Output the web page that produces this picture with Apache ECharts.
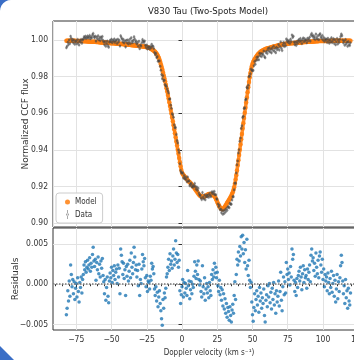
<!DOCTYPE html>
<html>
<head>
<meta charset="utf-8">
<script src="https://cdn.jsdelivr.net/npm/echarts@6/dist/echarts.min.js"></script>
<style>
  html, body { margin: 0; padding: 0; background: #fff; }
  #chart { width: 354px; height: 360px; }
</style>
</head>
<body>
<div id="chart"></div>
<script>
// Doppler velocity of each CCF sample (km/s)
const velocity = [
  -82,-81.5,-81,-80.5,-80,-79.5,-79,-78.5,-78,-77.5,
  -77,-76.5,-76,-75.5,-75,-74.5,-74,-73.5,-73,-72.5,
  -72,-71.5,-71,-70.5,-70,-69.5,-69,-68.5,-68,-67.5,
  -67,-66.5,-66,-65.5,-65,-64.5,-64,-63.5,-63,-62.5,
  -62,-61.5,-61,-60.5,-60,-59.5,-59,-58.5,-58,-57.5,
  -57,-56.5,-56,-55.5,-55,-54.5,-54,-53.5,-53,-52.5,
  -52,-51.5,-51,-50.5,-50,-49.5,-49,-48.5,-48,-47.5,
  -47,-46.5,-46,-45.5,-45,-44.5,-44,-43.5,-43,-42.5,
  -42,-41.5,-41,-40.5,-40,-39.5,-39,-38.5,-38,-37.5,
  -37,-36.5,-36,-35.5,-35,-34.5,-34,-33.5,-33,-32.5,
  -32,-31.5,-31,-30.5,-30,-29.5,-29,-28.5,-28,-27.5,
  -27,-26.5,-26,-25.5,-25,-24.5,-24,-23.5,-23,-22.5,
  -22,-21.5,-21,-20.5,-20,-19.5,-19,-18.5,-18,-17.5,
  -17,-16.5,-16,-15.5,-15,-14.5,-14,-13.5,-13,-12.5,
  -12,-11.5,-11,-10.5,-10,-9.5,-9,-8.5,-8,-7.5,
  -7,-6.5,-6,-5.5,-5,-4.5,-4,-3.5,-3,-2.5,
  -2,-1.5,-1,-0.5,0,0.5,1,1.5,2,2.5,
  3,3.5,4,4.5,5,5.5,6,6.5,7,7.5,
  8,8.5,9,9.5,10,10.5,11,11.5,12,12.5,
  13,13.5,14,14.5,15,15.5,16,16.5,17,17.5,
  18,18.5,19,19.5,20,20.5,21,21.5,22,22.5,
  23,23.5,24,24.5,25,25.5,26,26.5,27,27.5,
  28,28.5,29,29.5,30,30.5,31,31.5,32,32.5,
  33,33.5,34,34.5,35,35.5,36,36.5,37,37.5,
  38,38.5,39,39.5,40,40.5,41,41.5,42,42.5,
  43,43.5,44,44.5,45,45.5,46,46.5,47,47.5,
  48,48.5,49,49.5,50,50.5,51,51.5,52,52.5,
  53,53.5,54,54.5,55,55.5,56,56.5,57,57.5,
  58,58.5,59,59.5,60,60.5,61,61.5,62,62.5,
  63,63.5,64,64.5,65,65.5,66,66.5,67,67.5,
  68,68.5,69,69.5,70,70.5,71,71.5,72,72.5,
  73,73.5,74,74.5,75,75.5,76,76.5,77,77.5,
  78,78.5,79,79.5,80,80.5,81,81.5,82,82.5,
  83,83.5,84,84.5,85,85.5,86,86.5,87,87.5,
  88,88.5,89,89.5,90,90.5,91,91.5,92,92.5,
  93,93.5,94,94.5,95,95.5,96,96.5,97,97.5,
  98,98.5,99,99.5,100,100.5,101,101.5,102,102.5,
  103,103.5,104,104.5,105,105.5,106,106.5,107,107.5,
  108,108.5,109,109.5,110,110.5,111,111.5,112,112.5,
  113,113.5,114,114.5,115,115.5,116,116.5,117,117.5,
  118,118.5,119,119.5
];

// Two-spot model of the normalized CCF profile
const modelFlux = [
  0.9996,0.9996,0.9996,0.9996,0.9996,0.9996,0.9996,0.9996,0.9996,0.9996,
  0.9996,0.9996,0.9996,0.9995,0.9995,0.9995,0.9995,0.9995,0.9995,0.9995,
  0.9994,0.9994,0.9994,0.9994,0.9994,0.9993,0.9993,0.9993,0.9993,0.9993,
  0.9992,0.9992,0.9992,0.9992,0.9991,0.9991,0.9991,0.9991,0.9990,0.9990,
  0.9990,0.9990,0.9989,0.9989,0.9989,0.9989,0.9988,0.9988,0.9988,0.9987,
  0.9987,0.9987,0.9987,0.9986,0.9986,0.9986,0.9986,0.9985,0.9985,0.9985,
  0.9984,0.9984,0.9984,0.9983,0.9983,0.9983,0.9982,0.9982,0.9982,0.9981,
  0.9981,0.9981,0.9980,0.9980,0.9980,0.9979,0.9979,0.9979,0.9978,0.9978,
  0.9978,0.9977,0.9977,0.9976,0.9976,0.9976,0.9975,0.9975,0.9974,0.9974,
  0.9974,0.9973,0.9973,0.9972,0.9972,0.9971,0.9971,0.9970,0.9970,0.9970,
  0.9969,0.9969,0.9968,0.9968,0.9967,0.9967,0.9966,0.9966,0.9965,0.9965,
  0.9964,0.9963,0.9963,0.9962,0.9961,0.9960,0.9959,0.9958,0.9957,0.9955,
  0.9952,0.9950,0.9947,0.9944,0.9941,0.9938,0.9934,0.9930,0.9925,0.9919,
  0.9912,0.9903,0.9893,0.9881,0.9868,0.9854,0.9840,0.9824,0.9808,0.9791,
  0.9774,0.9756,0.9737,0.9719,0.9700,0.9680,0.9660,0.9640,0.9619,0.9598,
  0.9577,0.9556,0.9534,0.9512,0.9490,0.9468,0.9445,0.9423,0.9400,0.9378,
  0.9355,0.9332,0.9310,0.9290,0.9275,0.9268,0.9262,0.9257,0.9252,0.9248,
  0.9243,0.9239,0.9234,0.9230,0.9226,0.9222,0.9218,0.9214,0.9209,0.9204,
  0.9199,0.9194,0.9188,0.9183,0.9177,0.9172,0.9166,0.9161,0.9156,0.9152,
  0.9148,0.9146,0.9144,0.9143,0.9143,0.9144,0.9145,0.9147,0.9149,0.9151,
  0.9154,0.9156,0.9158,0.9159,0.9159,0.9158,0.9157,0.9155,0.9153,0.9150,
  0.9146,0.9140,0.9133,0.9124,0.9115,0.9106,0.9098,0.9091,0.9085,0.9080,
  0.9076,0.9075,0.9075,0.9079,0.9084,0.9090,0.9097,0.9103,0.9110,0.9116,
  0.9122,0.9128,0.9135,0.9142,0.9150,0.9158,0.9168,0.9180,0.9195,0.9214,
  0.9237,0.9261,0.9287,0.9315,0.9343,0.9371,0.9400,0.9429,0.9458,0.9487,
  0.9516,0.9545,0.9574,0.9602,0.9630,0.9658,0.9686,0.9714,0.9742,0.9770,
  0.9797,0.9820,0.9840,0.9857,0.9870,0.9880,0.9888,0.9895,0.9901,0.9907,
  0.9913,0.9918,0.9923,0.9927,0.9931,0.9934,0.9937,0.9940,0.9942,0.9944,
  0.9946,0.9948,0.9950,0.9952,0.9953,0.9954,0.9955,0.9956,0.9957,0.9958,
  0.9959,0.9961,0.9962,0.9963,0.9964,0.9965,0.9966,0.9967,0.9968,0.9969,
  0.9970,0.9971,0.9972,0.9973,0.9974,0.9975,0.9976,0.9976,0.9977,0.9978,
  0.9978,0.9979,0.9979,0.9980,0.9980,0.9981,0.9981,0.9982,0.9982,0.9982,
  0.9983,0.9983,0.9984,0.9984,0.9984,0.9985,0.9985,0.9985,0.9986,0.9986,
  0.9986,0.9987,0.9987,0.9987,0.9988,0.9988,0.9988,0.9989,0.9989,0.9989,
  0.9989,0.9990,0.9990,0.9990,0.9991,0.9991,0.9991,0.9991,0.9992,0.9992,
  0.9992,0.9992,0.9992,0.9993,0.9993,0.9993,0.9993,0.9993,0.9994,0.9994,
  0.9994,0.9994,0.9994,0.9994,0.9994,0.9995,0.9995,0.9995,0.9995,0.9995,
  0.9995,0.9995,0.9995,0.9995,0.9995,0.9995,0.9996,0.9996,0.9996,0.9996,
  0.9996,0.9996,0.9996,0.9996,0.9996,0.9996,0.9996,0.9996,0.9996,0.9996,
  0.9996,0.9996,0.9996,0.9996,0.9996,0.9996,0.9996,0.9996,0.9996,0.9996,
  0.9996,0.9996,0.9996,0.9996
];

// Observed minus model at each velocity
const residuals = [
  -0.0038,-0.0030,-0.0008,-0.0021,0.0004,-0.0015,0.0024,0.0012,-0.0003,0.0006,
  -0.0012,0.0003,-0.0019,-0.0005,0.0001,-0.0016,0.0008,-0.0009,-0.0022,0.0002,
  -0.0004,0.0009,-0.0011,0.0006,0.0012,0.0024,0.0018,0.0028,0.0015,0.0021,
  0.0030,0.0019,0.0024,0.0033,0.0016,0.0026,0.0021,0.0037,0.0046,0.0029,
  0.0022,0.0031,0.0005,0.0027,0.0018,0.0034,0.0013,0.0025,0.0009,0.0029,
  0.0020,0.0032,0.0011,0.0003,-0.0012,0.0006,-0.0020,-0.0004,0.0009,-0.0015,
  -0.0023,0.0004,0.0014,0.0008,0.0021,0.0002,0.0017,0.0011,0.0023,0.0006,
  0.0015,0.0019,0.0001,0.0024,0.0009,0.0020,-0.0012,0.0044,0.0036,0.0028,
  0.0012,0.0026,0.0007,0.0018,-0.0014,0.0022,0.0010,0.0025,0.0004,0.0016,
  0.0030,0.0008,0.0039,0.0021,0.0013,0.0027,0.0046,0.0034,0.0018,0.0024,
  0.0009,0.0017,-0.0002,0.0025,-0.0014,0.0006,0.0001,0.0019,0.0037,0.0028,
  0.0023,0.0032,0.0008,-0.0003,0.0011,-0.0009,0.0004,0.0002,-0.0006,0.0010,
  0.0005,0.0026,0.0019,0.0022,0.0013,-0.0006,-0.0014,-0.0003,-0.0021,-0.0010,
  -0.0028,-0.0016,-0.0008,-0.0024,-0.0033,-0.0043,-0.0051,-0.0019,-0.0030,-0.0011,
  -0.0017,-0.0005,0.0009,0.0013,0.0021,0.0031,0.0017,0.0038,0.0025,0.0029,
  0.0020,0.0035,0.0044,0.0024,0.0031,0.0054,0.0039,0.0027,0.0037,0.0021,
  0.0030,-0.0008,-0.0024,-0.0013,-0.0003,0.0006,-0.0016,0.0002,-0.0011,0.0001,
  -0.0005,-0.0014,0.0017,-0.0002,0.0004,-0.0018,-0.0007,0.0003,-0.0012,0.0000,
  -0.0004,0.0010,0.0028,0.0016,0.0007,0.0024,0.0012,0.0029,0.0006,-0.0001,
  0.0004,-0.0009,-0.0016,0.0023,-0.0003,-0.0012,0.0008,-0.0020,-0.0006,0.0001,
  -0.0011,-0.0003,-0.0017,0.0002,-0.0008,-0.0014,0.0012,0.0006,0.0018,0.0009,
  0.0026,0.0014,0.0021,0.0008,0.0015,-0.0002,-0.0009,0.0005,-0.0013,-0.0004,
  -0.0020,-0.0007,-0.0027,-0.0012,-0.0031,-0.0018,-0.0036,-0.0024,-0.0041,-0.0029,
  -0.0034,-0.0045,-0.0028,-0.0039,-0.0047,-0.0032,-0.0025,-0.0036,-0.0014,0.0003,
  -0.0019,0.0012,0.0031,0.0024,0.0040,0.0029,0.0047,0.0035,0.0059,0.0044,
  0.0061,0.0038,0.0052,0.0027,0.0043,0.0019,0.0056,0.0023,0.0011,0.0030,
  0.0005,-0.0004,0.0002,-0.0022,-0.0038,-0.0046,-0.0029,-0.0012,-0.0033,-0.0019,
  -0.0008,-0.0026,-0.0015,-0.0035,-0.0004,-0.0021,-0.0011,-0.0030,-0.0017,-0.0024,
  -0.0006,-0.0039,-0.0047,-0.0020,-0.0013,-0.0028,-0.0002,-0.0016,0.0001,-0.0023,
  -0.0010,-0.0031,-0.0005,-0.0019,0.0002,-0.0026,-0.0012,-0.0036,-0.0008,-0.0022,
  -0.0015,0.0004,-0.0027,-0.0009,0.0015,-0.0020,-0.0033,-0.0003,0.0009,-0.0013,
  0.0003,-0.0011,0.0027,0.0012,0.0019,0.0006,0.0014,-0.0001,0.0022,0.0009,
  0.0044,0.0031,0.0037,0.0005,-0.0009,0.0002,-0.0014,0.0007,-0.0004,0.0011,
  0.0016,0.0004,0.0021,0.0009,-0.0007,0.0013,0.0023,0.0002,0.0018,0.0008,
  0.0011,-0.0005,0.0019,0.0006,0.0015,0.0024,0.0003,0.0036,0.0044,0.0029,
  0.0033,0.0017,0.0026,0.0010,0.0039,0.0021,0.0013,0.0030,0.0008,0.0035,
  0.0040,0.0024,0.0015,0.0031,0.0006,0.0019,-0.0003,0.0012,0.0004,0.0009,
  -0.0008,0.0014,0.0002,-0.0012,0.0007,-0.0004,0.0016,-0.0010,0.0001,0.0011,
  -0.0015,0.0005,-0.0022,-0.0006,0.0012,-0.0018,0.0003,-0.0009,0.0008,0.0023,
  0.0036,0.0027,0.0004,-0.0012,-0.0002,-0.0024,0.0006,-0.0017,-0.0008,-0.0030,
  -0.0005,-0.0021,-0.0026,-0.0011
];

// Uncertainty on each flux sample
const fluxError = 0.0010;

// Tick labels
const velocityTicks = [-75, -50, -25, 0, 25, 50, 75, 100, 125];
const fluxTicks = [0.90, 0.92, 0.94, 0.96, 0.98, 1.00];
const residualTicks = [-0.005, 0, 0.005];

const FONT = "'DejaVu Sans Condensed', 'DejaVu Sans', sans-serif";
const FONT_VERTICAL = "'DejaVu Sans', sans-serif";
const INK = '#333';
const GRID_LINE = '#e2e2e2';
const ORANGE = '#ff7f0e';
const CORNER_BLUE = '#3a6ec6';
const withMinus = s => s.replace('-', '\u2212');

const modelPoints = velocity.map((v, i) => [v, modelFlux[i]]);
const observedPoints = velocity.map((v, i) => [v, modelFlux[i] + residuals[i], fluxError]);
const residualPoints = velocity.map((v, i) => [v, residuals[i]]);

const xCommon = {
  type: 'value', min: -91.5, max: 129.8, minInterval: 25, maxInterval: 25,
  axisLine: { show: false },
  nameMoveOverlap: false,
  splitLine: { show: true, lineStyle: { color: GRID_LINE, width: 1 } }
};
const gridCommon = {
  left: 53, right: -11, show: true, borderColor: INK, borderWidth: 1,
  containLabel: false, outerBoundsMode: 'none'
};

const chart = echarts.init(document.getElementById('chart'), null, { renderer: 'canvas' });
chart.setOption({
  animation: false,
  textStyle: { fontFamily: FONT },
  title: {
    text: 'V830 Tau (Two-Spots Model)',
    left: 208, top: 7, padding: 0, textAlign: 'center',
    textStyle: { fontFamily: FONT, fontSize: 9.5, fontWeight: 'normal', color: '#222' }
  },
  grid: [
    Object.assign({ top: 21, height: 206 }, gridCommon),
    Object.assign({ top: 228, height: 102 }, gridCommon)
  ],
  xAxis: [
    Object.assign({}, xCommon, {
      gridIndex: 0, axisTick: { show: false }, axisLabel: { show: false }
    }),
    Object.assign({}, xCommon, {
      gridIndex: 1,
      axisTick: { show: true, customValues: velocityTicks, length: 3.5, lineStyle: { color: INK } },
      minorTick: { show: true, splitNumber: 5, length: 2, lineStyle: { color: INK } },
      axisLabel: {
        customValues: velocityTicks, margin: 5, fontSize: 8.5, color: INK, fontFamily: FONT,
        formatter: v => withMinus(String(v))
      },
      name: 'Doppler velocity (km s\u207B\u00B9)',
      nameLocation: 'middle', nameGap: 19,
      nameTextStyle: { fontSize: 8, color: INK, fontFamily: FONT }
    })
  ],
  yAxis: [
    {
      gridIndex: 0, type: 'value', min: 0.8978, max: 1.0104, minInterval: 0.02, maxInterval: 0.02,
      axisLine: { show: false }, nameMoveOverlap: false,
      axisTick: { show: true, customValues: fluxTicks, length: 3.5, lineStyle: { color: INK } },
      axisLabel: {
        customValues: fluxTicks, margin: 5, fontSize: 8.5, color: INK, fontFamily: FONT,
        formatter: v => v.toFixed(2)
      },
      splitLine: { show: true, lineStyle: { color: GRID_LINE, width: 1 } },
      name: 'Normalized CCF flux', nameLocation: 'middle', nameGap: 23,
      nameTextStyle: { fontSize: 9, color: INK, fontFamily: FONT_VERTICAL }
    },
    {
      gridIndex: 1, type: 'value', min: -0.0057, max: 0.0070, minInterval: 0.005, maxInterval: 0.005,
      axisLine: { show: false }, nameMoveOverlap: false,
      axisTick: { show: true, customValues: residualTicks, length: 3.5, lineStyle: { color: INK } },
      axisLabel: {
        customValues: residualTicks, margin: 5, fontSize: 8.5, color: INK, fontFamily: FONT,
        formatter: v => withMinus(v.toFixed(3))
      },
      splitLine: { show: true, lineStyle: { color: GRID_LINE, width: 1 } },
      name: 'Residuals', nameLocation: 'middle', nameGap: 33,
      nameTextStyle: { fontSize: 9, color: INK, fontFamily: FONT_VERTICAL }
    }
  ],
  legend: {
    data: [
      { name: 'Model', icon: 'circle' },
      { name: 'Data', icon: 'path://M1.1,0h0.8v10h-0.8zM0,5a1.5,1.5 0 1,0 3,0a1.5,1.5 0 1,0 -3,0z' }
    ],
    orient: 'vertical', left: 56, top: 193,
    padding: [5, 6, 4, 9], itemGap: 4, itemWidth: 5, itemHeight: 9,
    textStyle: { fontSize: 8, color: INK, fontFamily: FONT },
    borderColor: '#cccccc', borderWidth: 1, borderRadius: 3,
    backgroundColor: 'rgba(255,255,255,0.85)'
  },
  series: [
    {
      // continuous trace of the model under its sample dots
      name: 'Model profile', type: 'line', xAxisIndex: 0, yAxisIndex: 0,
      data: modelPoints, showSymbol: false, z: 1, silent: true,
      lineStyle: { color: ORANGE, width: 3.5, opacity: 0.85 }
    },
    {
      name: 'Model', type: 'scatter', xAxisIndex: 0, yAxisIndex: 0,
      data: modelPoints, symbolSize: 4.5, z: 2,
      itemStyle: { color: ORANGE, opacity: 0.85 }
    },
    {
      name: 'Data', type: 'custom', xAxisIndex: 0, yAxisIndex: 0,
      data: observedPoints, z: 3, clip: true,
      encode: { x: 0, y: 1 },
      itemStyle: { color: '#8a8a8a' },
      renderItem: (params, api) => {
        const v = api.value(0), f = api.value(1), e = api.value(2);
        const hi = api.coord([v, f + e]);
        const lo = api.coord([v, f - e]);
        const c = api.coord([v, f]);
        return {
          type: 'group',
          children: [
            { type: 'line', shape: { x1: hi[0], y1: hi[1], x2: lo[0], y2: lo[1] },
              style: { stroke: 'rgba(120,120,120,0.45)', lineWidth: 1 } },
            { type: 'circle', shape: { cx: c[0], cy: c[1], r: 1.3 },
              style: { fill: 'rgba(60,60,60,0.55)' } }
          ]
        };
      }
    },
    {
      name: 'Residuals', type: 'scatter', xAxisIndex: 1, yAxisIndex: 1,
      data: residualPoints, symbolSize: 3.5, z: 3,
      itemStyle: { color: '#1f77b4' },
      markLine: {
        silent: true, symbol: 'none', label: { show: false },
        lineStyle: { color: '#777', type: 'dotted', width: 1.5 },
        data: [{ yAxis: 0 }]
      }
    }
  ],
  // frame corners of the page
  graphic: [
    { type: 'polygon', z: 100,
      shape: { points: [[0, 0], [11, 0], [8.15, 0.37], [5.5, 1.47], [3.22, 3.22], [1.47, 5.5], [0.37, 8.15], [0, 11]] },
      style: { fill: CORNER_BLUE } },
    { type: 'polygon', z: 100,
      shape: { points: [[0, 346], [14, 360], [0, 360]] },
      style: { fill: CORNER_BLUE } }
  ]
});
</script>
</body>
</html>
